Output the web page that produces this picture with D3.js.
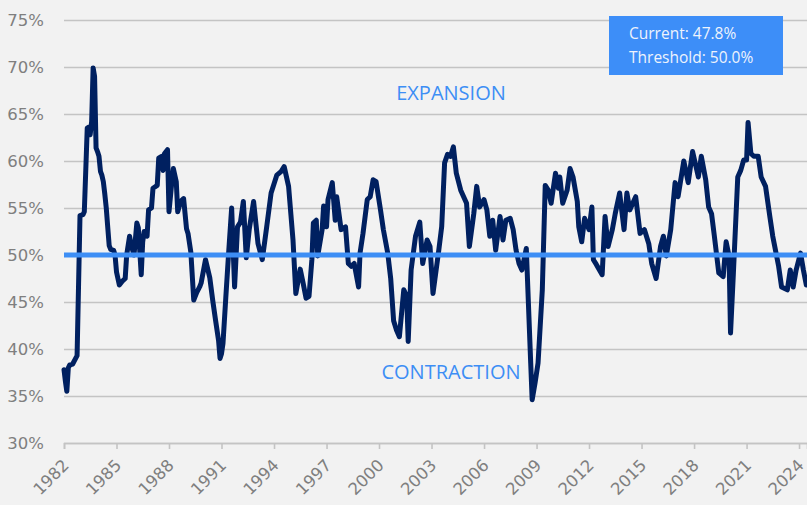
<!DOCTYPE html>
<html>
<head>
<meta charset="utf-8">
<title>PMI</title>
<script src="https://cdn.jsdelivr.net/npm/d3@7"></script>
<style>
  body { margin: 0; background: #f2f2f2; }
  svg { display: block; }
</style>
</head>
<body>
<svg width="807" height="505" id="mainsvg"></svg>
<script>
// monthly readings (YYYY-MM) and index values in percent
const months = [
  '1982-01','1982-02','1982-03','1982-04','1982-05','1982-07','1982-09','1982-10','1982-12',
  '1983-02','1983-03','1983-05','1983-06','1983-07','1983-08','1983-09','1983-10','1983-11','1983-12',
  '1984-01','1984-02','1984-03','1984-04','1984-05','1984-06','1984-07','1984-08','1984-09','1984-11','1984-12',
  '1985-01','1985-03','1985-05','1985-07','1985-08','1985-10','1985-11',
  '1986-01','1986-03','1986-04','1986-06','1986-07','1986-08','1986-10','1986-11',
  '1987-01','1987-02','1987-05','1987-06','1987-08','1987-09','1987-10','1987-12',
  '1988-01','1988-03','1988-04','1988-06','1988-07','1988-09','1988-11',
  '1989-01','1989-02','1989-04','1989-06','1989-08','1989-10','1989-11',
  '1990-02','1990-05','1990-07','1990-09','1990-11','1990-12',
  '1991-01','1991-02','1991-04','1991-06','1991-08','1991-10','1991-12',
  '1992-02','1992-04','1992-06','1992-08','1992-11',
  '1993-02','1993-05','1993-08','1993-11',
  '1994-03','1994-06','1994-08','1994-11',
  '1995-02','1995-04','1995-07','1995-09','1995-11',
  '1996-01','1996-03','1996-04','1996-06','1996-07','1996-10','1996-11',
  '1997-01','1997-02','1997-05','1997-07','1997-08','1997-11',
  '1998-02','1998-04','1998-06','1998-08','1998-11','1998-12',
  '1999-02','1999-05','1999-07','1999-09','1999-11',
  '2000-02','2000-04','2000-07','2000-09','2000-11',
  '2001-01','2001-03','2001-06','2001-08','2001-09','2001-11',
  '2002-02','2002-05','2002-07','2002-10','2002-12',
  '2003-02','2003-06','2003-08','2003-10','2003-12',
  '2004-02','2004-04','2004-06','2004-09','2004-11',
  '2005-01','2005-03','2005-06','2005-08','2005-10',
  '2006-01','2006-03','2006-05','2006-07','2006-09','2006-12',
  '2007-02','2007-04','2007-07','2007-09','2007-11',
  '2008-01','2008-03','2008-06','2008-09','2008-10','2008-12',
  '2009-02','2009-05','2009-07','2009-09','2009-11',
  '2010-02','2010-04','2010-05','2010-07','2010-10','2010-12',
  '2011-02','2011-05','2011-06','2011-08','2011-10',
  '2012-01','2012-03','2012-04','2012-06','2012-10','2012-12',
  '2013-02','2013-05','2013-07','2013-10',
  '2014-01','2014-03','2014-05','2014-09','2014-12',
  '2015-03','2015-06','2015-08','2015-11',
  '2016-02','2016-04','2016-06','2016-09','2016-12',
  '2017-02','2017-06','2017-09','2017-12',
  '2018-04','2018-06','2018-09','2018-11',
  '2019-01','2019-03','2019-06','2019-09','2019-11',
  '2020-01','2020-02','2020-04','2020-07','2020-09','2020-11',
  '2021-01','2021-02','2021-04','2021-06','2021-09','2021-11',
  '2022-02','2022-05','2022-07','2022-11',
  '2023-01','2023-05','2023-07','2023-09','2023-11',
  '2024-02','2024-04','2024-06'
]
const pmi = [
  37.8,36.5,35.5,38.0,38.3,38.4,39.0,39.3,54.2,
  54.3,54.6,63.5,63.6,62.8,64.2,69.9,69.0,61.4,61.0,
  60.5,58.9,58.5,57.8,56.5,55.0,53.0,51.0,50.6,50.5,50.0,
  48.2,46.8,47.2,47.5,50.0,52.0,51.1,
  50.0,53.4,52.9,47.9,51.4,52.5,52.0,54.8,
  55.0,57.1,57.4,60.3,60.5,59.0,60.8,61.2,
  54.6,57.8,59.2,57.8,54.6,55.7,56.0,
  52.8,52.3,50.3,45.2,46.0,46.6,47.0,
  49.5,47.6,45.2,43.0,40.9,39.0,
  39.5,40.6,45.5,50.4,55.0,46.6,53.0,
  53.5,55.7,49.7,52.7,55.7,
  51.2,49.5,53.0,56.6,
  58.5,58.9,59.4,57.3,
  51.6,45.9,48.5,47.0,45.4,
  45.6,49.5,53.4,53.7,49.9,52.7,55.2,
  53.0,55.9,57.7,53.7,56.2,52.7,
  53.0,49.1,48.8,49.1,46.6,50.2,
  52.3,55.9,56.2,58.0,57.8,
  54.8,52.7,50.2,47.5,43.0,
  42.0,41.3,46.3,45.6,40.8,48.4,
  52.0,53.5,49.1,51.6,50.9,
  45.9,50.5,53.0,59.8,60.7,
  60.5,61.5,58.7,56.9,56.2,
  55.5,50.9,54.4,57.3,55.1,
  55.9,54.8,52.0,53.7,50.5,54.1,
  51.6,53.7,53.9,52.7,50.5,
  49.1,48.4,50.7,38.5,34.6,36.4,
  38.5,46.3,57.4,56.9,55.5,
  58.7,57.1,58.3,55.5,56.9,59.2,
  58.3,55.7,53.0,51.4,53.9,
  52.7,55.1,49.5,49.0,47.9,54.1,
  50.9,52.7,54.4,56.6,
  52.7,56.6,54.8,56.2,52.3,
  52.7,51.2,49.1,47.5,
  50.9,52.0,49.9,52.7,57.7,
  56.2,60.0,57.7,61.0,
  58.3,60.5,58.0,55.1,
  54.4,52.0,48.1,47.7,51.4,
  49.9,41.7,48.1,58.3,59.0,60.1,
  60.1,64.1,60.8,60.5,60.5,58.3,
  57.3,54.1,52.0,48.8,
  46.6,46.3,48.4,46.6,48.4,
  50.2,48.4,46.8
]
const yTicks = [30, 35, 40, 45, 50, 55, 60, 65, 70, 75]
const xTickYears = [1982, 1985, 1988, 1991, 1994, 1997, 2000, 2003, 2006, 2009, 2012, 2015, 2018, 2021, 2024]
const threshold = 50
const currentValue = 47.8

const svg = d3.select('svg')
const width = +svg.attr('width')
const height = +svg.attr('height')
const margin = {top: 20, right: 0, bottom: 62, left: 64}

const parse = d3.timeParse('%Y-%m')
const data = months.map((m, i) => ({date: parse(m), value: pmi[i]}))

svg.append('rect').attr('width', width).attr('height', height).attr('fill', '#f2f2f2')

const xScale = d3.scaleTime()
  .domain([new Date(1982, 0, 1), new Date(2024, 5, 15)])
  .range([margin.left, width - margin.right])
const yScale = d3.scaleLinear()
  .domain([30, 75])
  .range([height - margin.bottom, margin.top])

// gridlines + y labels
const yAxis = d3.axisLeft(yScale)
  .tickValues(yTicks)
  .tickSize(-(width - margin.left - margin.right))
  .tickPadding(20)
  .tickFormat(d => d + '%')
const yG = svg.append('g')
  .attr('transform', `translate(${margin.left},0)`)
  .call(yAxis)
yG.select('.domain').remove()
yG.selectAll('line').attr('stroke', '#c4c4c4').attr('stroke-width', 1.6)
yG.selectAll('text')
  .attr('fill', '#7f7f7f')
  .attr('font-family', 'DejaVu Sans')
  .attr('font-size', 16.5)

// x axis
const xAxis = d3.axisBottom(xScale)
  .tickValues(xTickYears.map(y => new Date(y, 0, 1)))
  .tickFormat(d3.timeFormat('%Y'))
  .tickSize(6)
const xG = svg.append('g')
  .attr('transform', `translate(0,${yScale(30)})`)
  .call(xAxis)
xG.select('.domain').attr('stroke', '#c4c4c4').attr('stroke-width', 1.6)
xG.selectAll('line').attr('stroke', '#c4c4c4').attr('stroke-width', 1.6)
xG.selectAll('text')
  .attr('fill', '#7f7f7f')
  .attr('font-family', 'DejaVu Sans')
  .attr('font-size', 16.5)
  .attr('text-anchor', 'end')
  .attr('dy', 0)
  .attr('transform', 'translate(-1,17) rotate(-45)')

// series
const line = d3.line()
  .x(d => xScale(d.date))
  .y(d => yScale(d.value))
svg.append('path')
  .datum(data)
  .attr('d', line)
  .attr('fill', 'none')
  .attr('stroke', '#002060')
  .attr('stroke-width', 5)
  .attr('stroke-linejoin', 'round')
  .attr('stroke-linecap', 'round')

// threshold
svg.append('line')
  .attr('x1', margin.left)
  .attr('x2', width - margin.right)
  .attr('y1', yScale(threshold))
  .attr('y2', yScale(threshold))
  .attr('stroke', '#3d8ef5')
  .attr('stroke-width', 5)

svg.append('text')
  .attr('x', 451).attr('y', 100)
  .attr('text-anchor', 'middle')
  .attr('fill', '#3d8ef5')
  .attr('font-family', 'Open Sans')
  .attr('font-size', 20)
  .text('EXPANSION')
svg.append('text')
  .attr('x', 451).attr('y', 379)
  .attr('text-anchor', 'middle')
  .attr('fill', '#3d8ef5')
  .attr('font-family', 'Open Sans')
  .attr('font-size', 20)
  .text('CONTRACTION')

// info box
const box = svg.append('g').attr('transform', 'translate(609,16)')
box.append('rect').attr('width', 174).attr('height', 59).attr('fill', '#3d8ef8')
box.append('text').attr('x', 20).attr('y', 23)
  .attr('fill', '#eef3fc').attr('font-family', 'Open Sans').attr('font-size', 15.5)
  .text(`Current: ${currentValue.toFixed(1)}%`)
box.append('text').attr('x', 20).attr('y', 47)
  .attr('fill', '#eef3fc').attr('font-family', 'Open Sans').attr('font-size', 15.5)
  .text(`Threshold: ${threshold.toFixed(1)}%`)
</script>
</body>
</html>
